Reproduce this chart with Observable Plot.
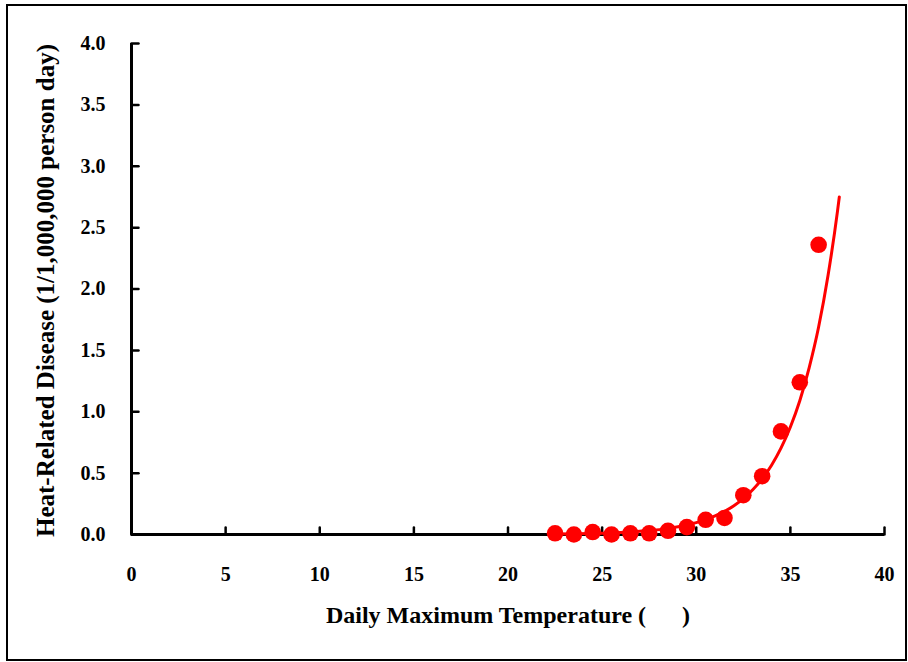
<!DOCTYPE html>
<html>
<head>
<meta charset="utf-8">
<script src="https://cdn.jsdelivr.net/npm/d3@7"></script>
<script src="https://cdn.jsdelivr.net/npm/@observablehq/plot@0.6"></script>
<style>
  html, body { margin: 0; padding: 0; background: #fff; }
  #wrap { position: relative; width: 908px; height: 662px; }
  #border { position: absolute; left: 6px; top: 4px; width: 897px; height: 653px; border: 2px solid #000; box-sizing: content-box; }
  #chart { position: absolute; left: 0; top: 0; }
  #chart svg text { font-family: "Liberation Serif", "Times New Roman", serif !important; font-weight: bold; }
</style>
</head>
<body>
<div id="wrap"><div id="border"></div><div id="chart"></div></div>
<script>
// Observed points
const temps = [22.5, 23.5, 24.5, 25.5, 26.5, 27.5, 28.5, 29.5, 30.5, 31.5, 32.5, 33.5, 34.5, 35.5, 36.5];
const rates = [0.01, 0.0, 0.02, 0.0, 0.01, 0.01, 0.03, 0.06, 0.12, 0.135, 0.32, 0.475, 0.84, 1.24, 2.36];

// Fitted curve
const curveX = [22.5, 23.5, 24.5, 25.5, 26.5, 27.5, 28.5, 29.5, 30, 30.5, 31, 31.5, 32, 32.5, 33, 33.5, 34, 34.5, 35, 35.5, 36, 36.5, 37, 37.5, 37.6];
const curveY = [0.004, 0.006, 0.009, 0.013, 0.021, 0.032, 0.05, 0.078, 0.097, 0.121, 0.151, 0.188, 0.234, 0.292, 0.364, 0.453, 0.564, 0.703, 0.876, 1.09, 1.36, 1.69, 2.11, 2.63, 2.75];

const xTicks = [0, 5, 10, 15, 20, 25, 30, 35, 40];
const yTicks = [0, 0.5, 1, 1.5, 2, 2.5, 3, 3.5, 4];

const xTitle = "Daily Maximum Temperature ( \u2003 )";
const yTitle = "Heat-Related Disease (1/1,000,000 person day)";

const points = temps.map((t, i) => ({t, r: rates[i]}));
const curve = curveX.map((t, i) => ({t, r: curveY[i]}));

const font = "Liberation Serif";
const tickShape = {draw(context, l) { context.moveTo(0, 0); context.lineTo(0, -l); }};

const chart = Plot.plot({
  width: 908,
  height: 662,
  marginLeft: 131,
  marginRight: 24,
  marginTop: 43,
  marginBottom: 128,
  style: {fontFamily: font, fontWeight: "bold", fontSize: "20px", color: "#000", background: "transparent"},
  x: {domain: [0, 40]},
  y: {domain: [0, 4]},
  marks: [
    Plot.axisX({ticks: xTicks, tickSize: 0, tickPadding: 32, tickFormat: d => String(d), fontSize: 20, fontFamily: font, fontWeight: "bold", label: null}),
    Plot.axisY({ticks: yTicks, tickSize: 0, tickPadding: 26, tickFormat: d => d.toFixed(1), fontSize: 20, fontFamily: font, fontWeight: "bold", label: null}),
    Plot.vector(xTicks, {x: d => d, y: 0, length: 7, rotate: 0, anchor: "start", shape: tickShape, stroke: "#000", strokeWidth: 2.5}),
    Plot.vector(yTicks, {x: 0, y: d => d, length: 7, rotate: 90, anchor: "start", shape: tickShape, stroke: "#000", strokeWidth: 2.5}),
    Plot.ruleY([0], {x1: 0, x2: 40, stroke: "#000", strokeWidth: 3}),
    Plot.ruleX([0], {y1: 0, y2: 4, stroke: "#000", strokeWidth: 3}),
    Plot.line(curve, {x: "t", y: "r", stroke: "#ff0000", strokeWidth: 3, curve: "monotone-x"}),
    Plot.dot(points, {x: "t", y: "r", r: 8.3, fill: "#ff0000", stroke: "none"}),
    Plot.text([xTitle], {frameAnchor: "bottom", dy: 81, textAnchor: "middle", lineAnchor: "middle", text: d => d, fontSize: 24, fontFamily: font, fontWeight: "bold", fill: "#000"}),
    Plot.text([yTitle], {frameAnchor: "left", dx: -86, dy: 1.5, textAnchor: "middle", lineAnchor: "middle", rotate: -90, text: d => d, fontSize: 25, fontFamily: font, fontWeight: "bold", fill: "#000"})
  ]
});
document.getElementById("chart").appendChild(chart);
</script>
</body>
</html>
